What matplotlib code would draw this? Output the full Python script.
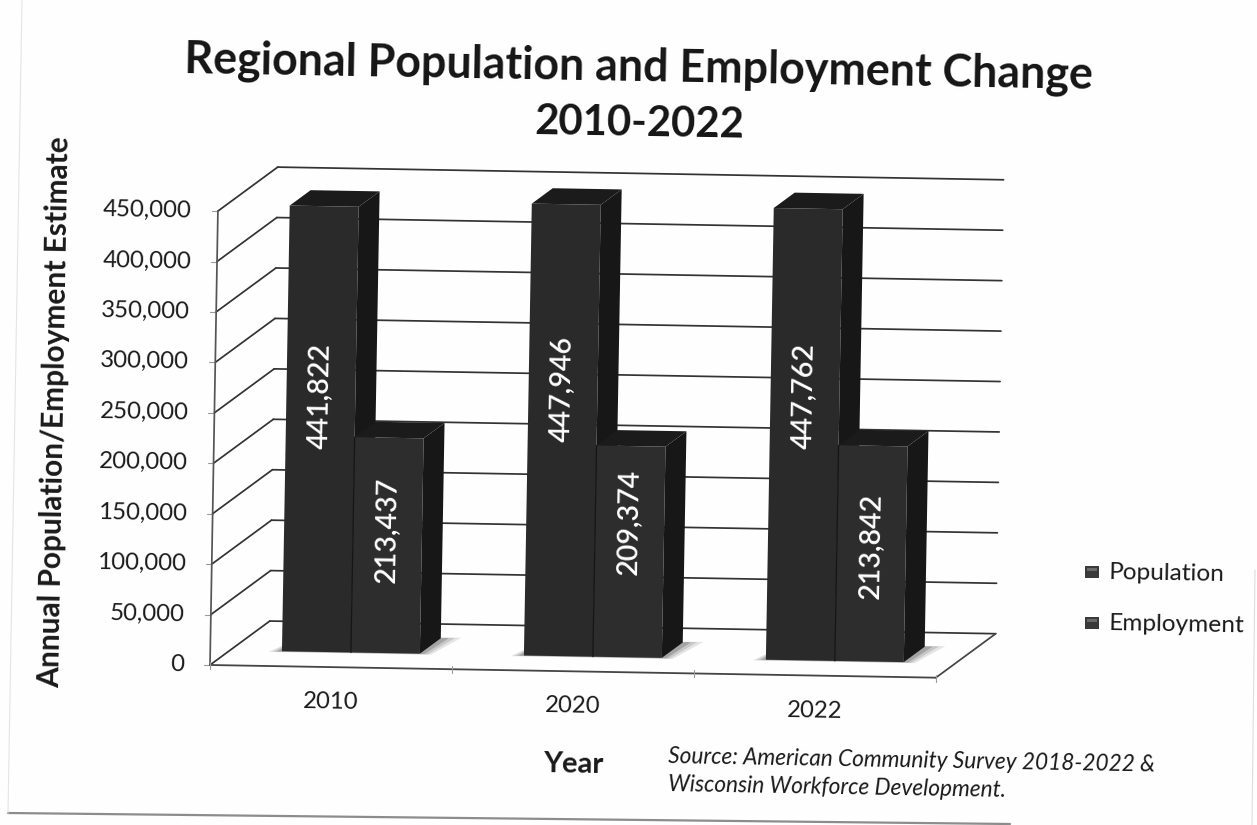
import numpy as np
import matplotlib
matplotlib.use('Agg')
import matplotlib.pyplot as plt
from matplotlib.patches import Polygon
from matplotlib.transforms import Affine2D, IdentityTransform

years = ['2010', '2020', '2022']
population = [441822, 447946, 447762]
employment = [213437, 209374, 213842]
y_ticks = [0, 50000, 100000, 150000, 200000, 250000, 300000, 350000, 400000, 450000]
series_names = ['Population', 'Employment']

W, H = 1257, 825
TILT = -1.0
FONT = 'Lato'

fig = plt.figure(figsize=(W / 100, H / 100), dpi=100)
fig.patch.set_facecolor('#fefefe')
# front plane of the box, everything else is pushed back from it
ax = fig.add_axes([210 / W, 1 - 665 / H, 726 / W, 454 / H])
ax.set_xlim(0, 3)
ax.set_ylim(0, 450000)
ax.axis('off')
fig.canvas.draw()

depth = np.array([59.0, 45.0])
tilt = Affine2D().rotate_deg_around(210, H - 665, TILT)
screen = IdentityTransform()


def project(x, v, d=0.0):
    base = ax.transData.transform((x, v))
    return tilt.transform(base + depth * d)


def line(p, q, color='#333333', lw=1.25, z=1):
    ax.plot([p[0], q[0]], [p[1], q[1]], color=color, lw=lw, transform=screen,
            clip_on=False, zorder=z, solid_capstyle='round')


def poly(pts, color, z, alpha=1.0):
    ax.add_patch(Polygon(pts, closed=True, facecolor=color, edgecolor='none',
                         alpha=alpha, transform=screen, clip_on=False, zorder=z))


def page_text(x, y, s, size, rot=TILT, weight='normal', style='normal',
              color='#1a1a1a', ha='center', z=10):
    ax.text(x, H - y, s, fontsize=size, rotation=rot, rotation_mode='anchor',
            fontweight=weight, fontstyle=style, color=color, ha=ha, va='center',
            family=FONT, transform=screen, clip_on=False, zorder=z)


# walls and floor
for v in y_ticks:
    line(project(0, v, 0), project(0, v, 1))
    line(project(0, v, 1), project(3, v, 1))
    a = project(0, v, 0)
    line(a, a + np.array([-6, 0]), color='#999999', lw=0.8)
    page_text(a[0] - 26, H - a[1], f'{v:,}', 17.3, ha='right')

line(project(0, 0, 0), project(0, 450000, 0), color='#555555')
line(project(0, 0, 0), project(3, 0, 0), color='#444444', lw=1.3)
line(project(3, 0, 0), project(3, 0, 1), color='#444444')
for i in range(4):
    a = project(i, 0, 0)
    line(a + np.array([0, 3]), a + np.array([0, -4]), color='#999999', lw=0.8)
for i, yr in enumerate(years):
    a = project(i + 0.5, 0, 0)
    page_text(a[0], H - a[1] + 35, yr, 17.2)

# bars
bar_w = 0.285
gap = 0.215
d0, d1 = 1 / 3, 1 / 3 + 0.35
front_cols = ['#2a2a2a', '#2d2d2d']
label_shift = [[33, 16], [41, 30], [39, 8]]
for i in range(len(years)):
    x0 = i + gap
    # soft floor shadow
    for grow, al in zip([1.0, 0.7, 0.4], [0.15, 0.2, 0.3]):
        sx0 = x0 - 0.05 * grow
        sx1 = x0 + 2 * bar_w + 0.05 * grow
        pts = [project(sx0, 0, d0 - 0.02 * grow), project(sx1, 0, d0 - 0.02 * grow),
               project(sx1 + 0.03 * grow, 0, d1 + 0.02 * grow), project(x0, 0, d1)]
        poly(pts, '#555555', 2, alpha=al)
    for j, vals in enumerate([population, employment]):
        v = vals[i]
        l = x0 + j * bar_w
        r = l + bar_w
        z = 3 + j
        poly([project(r, 0, d0), project(r, 0, d1), project(r, v, d1), project(r, v, d0)], '#171717', z)
        poly([project(l, v, d0), project(r, v, d0), project(r, v, d1), project(l, v, d1)], '#1b1b1b', z)
        poly([project(l, 0, d0), project(r, 0, d0), project(r, v, d0), project(l, v, d0)], front_cols[j], z)
        if j == 1:
            line(project(l, 0, d0), project(l, v, d0), color='#151515', lw=0.9, z=z)
        mid = project(l + bar_w / 2, v / 2, d0)
        page_text(mid[0], H - mid[1] - label_shift[i][j], f'{v:,}', 20.5,
                  rot=90 + TILT, weight='semibold', color='white', z=8)

# title, axis names, source note
page_text(639, 68, 'Regional Population and Employment Change', 32.2, weight='bold', color='#151515')
page_text(639, 124, '2010-2022', 30.2, weight='bold', color='#151515')
page_text(55, 412, 'Annual Population/Employment Estimate', 21.5, rot=90 + TILT, weight='bold')
page_text(573, 765, 'Year', 21, weight='bold')
page_text(668, 757, 'Source: American Community Survey 2018-2022 &', 16.3, style='italic', ha='left')
page_text(668, 785, 'Wisconsin Workforce Development.', 16.3, style='italic', ha='left')

# legend
for name, yy in zip(series_names, [572, 623]):
    cx, cy = 1092, H - yy
    poly([(cx - 7, cy - 6), (cx + 7, cy - 6), (cx + 7, cy + 6), (cx - 7, cy + 6)], '#3a3a3a', 9)
    poly([(cx - 5, cy + 1), (cx + 5, cy + 1), (cx + 5, cy + 4), (cx - 5, cy + 4)], '#6a6a6a', 9)
    page_text(1109, yy + 1, name, 17.6, ha='left')

# edges of the scanned page
line((8, H - 813), (1010, H - 824), color='#8c8c8c', lw=1.6)
line((8, H - 813), (22, H - 0), color='#e4e4e4', lw=0.8)
line((1255, H - 570), (1252, H - 825), color='#dddddd', lw=0.8)

fig.savefig('out.png', dpi=100, facecolor=fig.get_facecolor())
